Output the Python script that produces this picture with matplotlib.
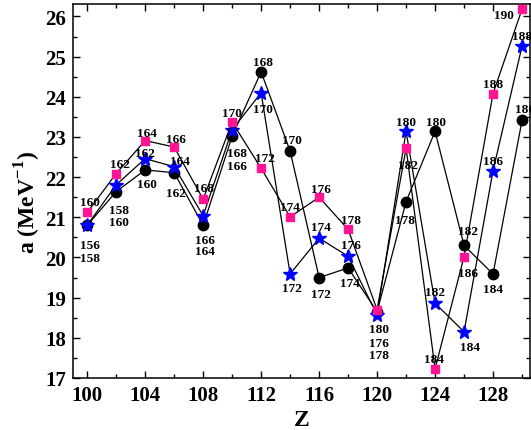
import matplotlib
matplotlib.use("Agg")
import matplotlib.pyplot as plt
from matplotlib.ticker import MultipleLocator

# ---- data ----
Z = [100, 102, 104, 106, 108, 110, 112, 114, 116, 118, 120, 122, 124, 126, 128, 130]

a_circle = [20.80, 21.64, 22.18, 22.11, 20.80, 23.02, 24.62, 22.65, 19.50, 19.74,
            18.65, 21.39, 23.14, 20.30, 19.59, 23.41]
a_star = [20.80, 21.81, 22.46, 22.26, 21.04, 23.18, 24.10, 19.59, 20.48, 20.03,
          18.57, 23.14, 18.86, 18.15, 22.16, 25.26]
a_square = [21.12, 22.09, 22.91, 22.75, 21.45, 23.37, 22.22, 21.01, 21.50, 20.70,
            18.70, 22.72, 17.23, 20.02, 24.08, 26.18]

N_circle = [156, 158, 160, 162, 164, 166, 168, 170, 172, 174, 176, 178, 180, 182, 184, 186]
N_star = [158, 160, 162, 164, 166, 168, 170, 172, 174, 176, 178, 180, 182, 184, 186, 188]
N_square = [160, 162, 164, 166, 168, 170, 172, 174, 176, 178, 180, 182, 184, 186, 188, 190]

x_ticks = [100, 104, 108, 112, 116, 120, 124, 128]
y_ticks = [17, 18, 19, 20, 21, 22, 23, 24, 25, 26]

# ---- label offsets (pixels, dx, dy up) ----
off_circle = [(3, -19), (3, -17), (2, -13), (2, -19), (2, -25), (5, -29), (2, 11), (2, 12),
              (2, -15), (2, -14), (2, -30), (-1, -17), (1, 10), (4, 15), (0, -14), (3, 12)]
off_star = [(3, -32), (3, -36), (0, 7), (6, 7), (2, -23), (5, -22), (2, -15), (2, -13),
            (2, 12), (3, 12), (2, -39), (0, 10), (0, 12), (6, -14), (0, 11), (0, 11)]
off_square = [(3, 11), (4, 11), (2, 9), (2, 9), (1, 12), (0, 10), (4, 11), (0, 11),
              (2, 9), (3, 10), (2, -18), (2, -16), (-1, 11), (4, -15), (0, 11), (-18, -5)]

plt.rcParams['font.family'] = ['Liberation Serif', 'DejaVu Serif']
plt.rcParams['font.weight'] = 'bold'
plt.rcParams['mathtext.fontset'] = 'custom'
plt.rcParams['mathtext.rm'] = 'Liberation Serif:bold'
plt.rcParams['mathtext.bf'] = 'Liberation Serif:bold'

fig = plt.figure(figsize=(5.31, 4.31), dpi=100)
ax = fig.add_axes([72.7 / 531, 1 - 379 / 431, (530 - 72.7) / 531, (379 - 5) / 431])

pink = '#ff1493'
ax.plot(Z, a_circle, '-', color='black', lw=0.9, marker='o', ms=7.5,
        mfc='black', mec='black', zorder=3)
ax.plot(Z, a_star, '-', color='black', lw=0.9, marker='*', ms=10,
        mfc='blue', mec='blue', zorder=4)
ax.plot(Z, a_square, '-', color='black', lw=0.9, marker='s', ms=5.7,
        mfc=pink, mec=pink, zorder=5)

for xs, ys, ns, offs in [(Z, a_circle, N_circle, off_circle),
                         (Z, a_star, N_star, off_star),
                         (Z, a_square, N_square, off_square)]:
    for x, y, n, (dx, dy) in zip(xs, ys, ns, offs):
        ax.annotate(str(n), (x, y), xytext=(dx, dy - 1), textcoords='offset pixels',
                    ha='center', va='center', fontsize=9.5, fontweight='bold',
                    zorder=6, annotation_clip=False)

ax.set_xlim(99, 130.55)
ax.set_ylim(17, 26.31)
ax.set_xticks(x_ticks)
ax.set_yticks(y_ticks)
ax.xaxis.set_minor_locator(MultipleLocator(2))
ax.yaxis.set_minor_locator(MultipleLocator(0.5))
ax.tick_params(which='both', direction='in', top=True, right=True, width=1.0)
ax.tick_params(which='major', length=5, labelsize=15, pad=5)
ax.tick_params(which='minor', length=3)
for lab in ax.get_xticklabels() + ax.get_yticklabels():
    lab.set_fontweight('bold')
for s in ax.spines.values():
    s.set_linewidth(1.1)

ax.set_xlabel('Z', fontsize=17, fontweight='bold')
ax.set_ylabel(r'a (MeV$^{\mathbf{-1}}$)', fontsize=17, fontweight='bold')
ax.xaxis.set_label_coords(0.5, -0.082)
ax.yaxis.set_label_coords(-0.064, 0.473)

fig.savefig('out.png', dpi=100)
